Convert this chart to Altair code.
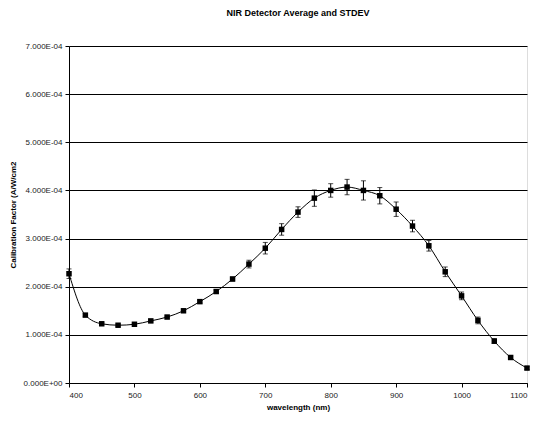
import altair as alt
import pandas as pd

wavelength = [400, 425, 450, 475, 500, 525, 550, 575, 600, 625, 650, 675, 700, 725,
              750, 775, 800, 825, 850, 875, 900, 925, 950, 975, 1000, 1025, 1050, 1075, 1100]
# average calibration factor, in units of 1e-4 A/W/cm2
average_e4 = [2.27, 1.41, 1.23, 1.20, 1.22, 1.29, 1.37, 1.50, 1.69, 1.90, 2.16, 2.47, 2.80, 3.19,
              3.55, 3.84, 4.00, 4.07, 4.00, 3.89, 3.61, 3.26, 2.85, 2.31, 1.81, 1.30, 0.87, 0.53, 0.31]
# standard deviation, in units of 1e-4 A/W/cm2
stdev_e4 = [0.10, 0.03, 0.02, 0.02, 0.02, 0.02, 0.02, 0.03, 0.03, 0.03, 0.04, 0.08, 0.12, 0.12,
            0.11, 0.17, 0.14, 0.16, 0.20, 0.17, 0.15, 0.12, 0.11, 0.10, 0.08, 0.07, 0.05, 0.03, 0.03]

df = pd.DataFrame({
    "wavelength": wavelength,
    "avg": [v * 1e-4 for v in average_e4],
    "lo": [(v - s) * 1e-4 for v, s in zip(average_e4, stdev_e4)],
    "hi": [(v + s) * 1e-4 for v, s in zip(average_e4, stdev_e4)],
})

FONT = "Liberation Sans"

x = alt.X("wavelength:Q",
          scale=alt.Scale(domain=[400, 1100], nice=False, zero=False),
          axis=alt.Axis(title="wavelength (nm)", values=list(range(400, 1101, 100)), format="d",
                        grid=False, domainColor="black", tickColor="black",
                        tickSize=4, labelFontSize=8, labelColor="#222",
                        titleFontSize=8, titleFontWeight="bold", titlePadding=4,
                        labelFont=FONT, titleFont=FONT, labelPadding=4))
y_scale = alt.Scale(domain=[0, 7e-4], nice=False)
y_axis = alt.Axis(title="Calibration Factor (A/W/cm2",
                  values=[i * 1e-4 for i in range(8)],
                  labelExpr="datum.value < 1e-9 ? '0.000E+00' : format(datum.value * 10000, '.3f') + 'E-04'",
                  grid=True, gridColor="black", gridWidth=1, gridOpacity=1,
                  domainColor="black", tickColor="black", tickSize=4,
                  labelFontSize=8, labelColor="#222", titleFontSize=8, titleFontWeight="bold",
                  labelFont=FONT, titleFont=FONT, titlePadding=6, labelPadding=3)

base = alt.Chart(df)

line = base.mark_line(color="black", strokeWidth=1, interpolate="monotone").encode(
    x=x, y=alt.Y("avg:Q", scale=y_scale, axis=y_axis))
err = base.mark_rule(color="black", strokeWidth=1).encode(
    x="wavelength:Q", y=alt.Y("lo:Q", scale=y_scale), y2="hi:Q")
cap_lo = base.mark_tick(color="black", orient="horizontal", size=5, thickness=1).encode(
    x="wavelength:Q", y=alt.Y("lo:Q", scale=y_scale))
cap_hi = base.mark_tick(color="black", orient="horizontal", size=5, thickness=1).encode(
    x="wavelength:Q", y=alt.Y("hi:Q", scale=y_scale))
pts = base.mark_square(color="black", size=30, opacity=1).encode(
    x="wavelength:Q", y=alt.Y("avg:Q", scale=y_scale))

chart = alt.layer(line, err, cap_lo, cap_hi, pts).properties(
    width=458, height=337,
    autosize="none",
    padding={"left": 69, "top": 46, "right": 8, "bottom": 39},
    title=alt.TitleParams("NIR Detector Average and STDEV", fontSize=9, fontWeight="bold",
                          font=FONT, anchor="middle", offset=24, color="black"),
).configure_view(stroke="#a0a0a0", strokeWidth=1).configure(background="white")

chart.save("out.html", embed_options={"renderer": "svg", "actions": False})
